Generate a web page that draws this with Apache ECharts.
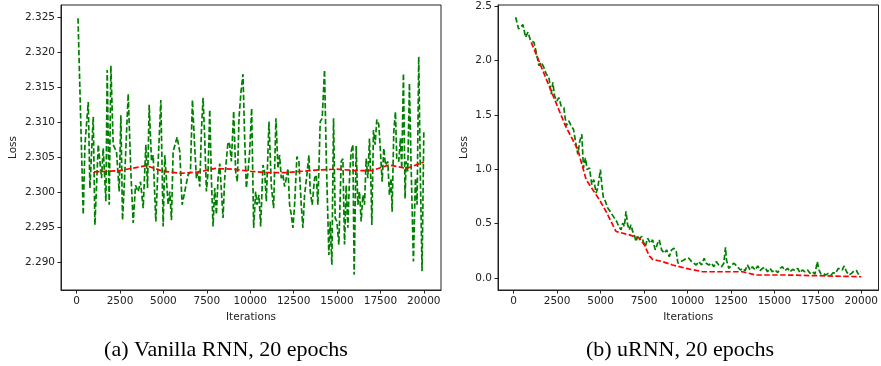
<!DOCTYPE html>
<html>
<head>
<meta charset="utf-8">
<script src="https://cdn.jsdelivr.net/npm/echarts@6/dist/echarts.min.js"></script>
<style>
  html, body { margin: 0; padding: 0; background: #fff; }
  #chart { width: 881px; height: 366px; }
</style>
</head>
<body>
<div id="chart"></div>
<script>
// ── data ──
// (a) Vanilla RNN: raw loss (green) and running average (red)
const vanillaIter = [80, 381, 479, 670, 766, 957, 1053, 1245, 1437, 1532, 1686, 1762, 1877, 1973, 2107, 2299, 2453, 2549, 2645, 2779,
  2971, 3124, 3258, 3393, 3546, 3681, 3834, 3988, 4084, 4180, 4314, 4410, 4563, 4698, 4851, 4985, 5080, 5271, 5367, 5463,
  5559, 5789, 5942, 6076, 6230, 6421, 6556, 6671, 6805, 6901, 6997, 7092, 7188, 7284, 7380, 7476, 7572, 7668, 7763, 7859,
  7955, 8051, 8147, 8243, 8338, 8434, 8530, 8722, 8818, 8914, 9048, 9163, 9259, 9354, 9469, 9584, 9680, 9776, 9872, 9968,
  10083, 10198, 10313, 10390, 10505, 10601, 10735, 10831, 10927, 11080, 11214, 11348, 11482, 11597, 11693, 11789, 11885, 11981, 12077, 12173,
  12268, 12364, 12460, 12556, 12690, 12805, 12939, 13035, 13131, 13265, 13380, 13457, 13572, 13706, 13802, 13898, 14032, 14147, 14281, 14377,
  14473, 14530, 14607, 14703, 14799, 14895, 14991, 15106, 15240, 15337, 15433, 15528, 15624, 15720, 15816, 15912, 15988, 16103, 16199, 16295,
  16391, 16487, 16583, 16679, 16774, 16870, 16966, 17005, 17100, 17196, 17292, 17407, 17503, 17599, 17695, 17790, 17925, 18020, 18116, 18174,
  18270, 18366, 18442, 18557, 18653, 18730, 18826, 18921, 18979, 19075, 19171, 19267, 19401, 19516, 19612, 19707, 19803, 19899, 20000];
const vanillaLoss = [2.3249, 2.2968, 2.3068, 2.3129, 2.3006, 2.3108, 2.2953, 2.3068, 2.3020, 2.3063, 2.2987, 2.3175, 2.2982, 2.3181, 2.3068, 2.3058, 2.3001, 2.3110, 2.2960, 2.3029,
  2.3141, 2.3029, 2.2956, 2.3010, 2.3001, 2.3015, 2.2977, 2.3068, 2.3006, 2.3125, 2.3044, 2.3053, 2.2958, 2.3044, 2.3132, 2.2951, 2.3053, 2.2982, 2.3001, 2.2960,
  2.3058, 2.3079, 2.3058, 2.2982, 2.3001, 2.3025, 2.3029, 2.3132, 2.3063, 2.3020, 2.3029, 2.3008, 2.3087, 2.3135, 2.3077, 2.3001, 2.3029, 2.3118, 2.3020, 2.2951,
  2.3006, 2.2968, 2.3020, 2.3041, 2.3039, 2.2963, 2.3020, 2.3072, 2.3068, 2.3044, 2.3116, 2.3029, 2.3015, 2.3106, 2.3144, 2.3169, 2.3077, 2.3006, 2.3029, 2.3058,
  2.3120, 2.2949, 2.3001, 2.2982, 2.2996, 2.2951, 2.3039, 2.3029, 2.2987, 2.3101, 2.3010, 2.2977, 2.3106, 2.3034, 2.3053, 2.3020, 2.3025, 2.3008, 2.3020, 2.3034,
  2.2982, 2.2968, 2.2949, 2.2982, 2.3051, 2.3044, 2.2982, 2.2949, 2.2996, 2.3025, 2.3053, 2.3001, 2.2982, 2.3020, 2.3025, 2.2982, 2.3101, 2.3106, 2.3175, 2.3053,
  2.2963, 2.2910, 2.2958, 2.2896, 2.3106, 2.2963, 2.2958, 2.2925, 2.3044, 2.3048, 2.2925, 2.3010, 2.2949, 2.3020, 2.3058, 2.3068, 2.2882, 2.3066, 2.2982, 2.3001,
  2.2958, 2.2996, 2.2982, 2.3048, 2.3020, 2.3077, 2.3001, 2.2953, 2.3089, 2.3068, 2.3104, 2.3097, 2.3058, 2.3015, 2.3063, 2.3039, 2.3044, 2.2996, 2.3020, 2.2972,
  2.3087, 2.3115, 2.3048, 2.3044, 2.3077, 2.3034, 2.3170, 2.2991, 2.3044, 2.3030, 2.3156, 2.3039, 2.2901, 2.3020, 2.2982, 2.3194, 2.3020, 2.2887, 2.3087];
const vanillaAvgIter = [1000, 2500, 4000, 5000, 6000, 7000, 8000, 9000, 10000, 11000, 12000, 13000, 14000, 15000, 16000, 17000, 18000, 19000, 20000];
const vanillaAvgLoss = [2.3029, 2.3031, 2.3038, 2.3030, 2.3027, 2.3029, 2.3034, 2.3033, 2.3030, 2.3028, 2.3028, 2.3030, 2.3032, 2.3033, 2.3031, 2.3031, 2.3039, 2.3034, 2.3043];

// (b) uRNN
const urnnIter = [115, 287, 535, 688, 822, 975, 1166, 1300, 1453, 1587, 1740, 1874, 2027, 2161, 2257, 2352, 2486, 2601, 2735, 2888,
  3022, 3175, 3309, 3443, 3557, 3691, 3806, 3921, 4016, 4131, 4227, 4361, 4495, 4610, 4743, 4839, 4992, 5069, 5164, 5279,
  5413, 5547, 5662, 5796, 5930, 6045, 6177, 6272, 6368, 6464, 6559, 6655, 6751, 6846, 6942, 7038, 7133, 7229, 7363, 7459,
  7574, 7708, 7861, 7995, 8148, 8282, 8378, 8512, 8665, 8799, 8952, 9086, 9220, 9354, 9450, 9603, 9795, 9948, 10082, 10235,
  10369, 10503, 10656, 10809, 10962, 11077, 11230, 11383, 11517, 11651, 11804, 11957, 12091, 12187, 12244, 12378, 12531, 12684, 12856, 13048,
  13182, 13316, 13450, 13603, 13737, 13890, 14043, 14177, 14311, 14464, 14598, 14751, 14885, 15038, 15191, 15325, 15459, 15612, 15765, 15899,
  16052, 16186, 16339, 16473, 16607, 16760, 16913, 17047, 17181, 17334, 17468, 17564, 17679, 17813, 17947, 18100, 18253, 18387, 18521, 18674,
  18770, 18904, 19018, 19152, 19286, 19439, 19592, 19726, 19822, 19975];
const urnnLoss = [2.398, 2.290, 2.330, 2.213, 2.260, 2.183, 2.167, 2.075, 1.952, 1.983, 1.936, 1.875, 1.844, 1.690, 1.798, 1.675, 1.628, 1.659, 1.582, 1.567,
  1.398, 1.444, 1.398, 1.367, 1.259, 1.136, 1.259, 1.321, 1.013, 1.105, 0.997, 1.013, 0.859, 0.905, 0.782, 0.828, 0.997, 0.859, 0.736, 0.705,
  0.643, 0.613, 0.597, 0.551, 0.520, 0.474, 0.443, 0.505, 0.474, 0.612, 0.489, 0.443, 0.489, 0.428, 0.397, 0.336, 0.382, 0.351, 0.385, 0.336,
  0.289, 0.367, 0.320, 0.351, 0.259, 0.320, 0.351, 0.259, 0.228, 0.259, 0.197, 0.259, 0.274, 0.243, 0.136, 0.151, 0.166, 0.182, 0.182, 0.151,
  0.136, 0.120, 0.151, 0.120, 0.182, 0.136, 0.120, 0.136, 0.104, 0.151, 0.120, 0.104, 0.136, 0.283, 0.166, 0.089, 0.120, 0.136, 0.104, 0.074,
  0.089, 0.068, 0.120, 0.074, 0.104, 0.074, 0.111, 0.068, 0.089, 0.098, 0.058, 0.089, 0.058, 0.074, 0.049, 0.089, 0.104, 0.068, 0.089, 0.058,
  0.080, 0.068, 0.089, 0.049, 0.074, 0.058, 0.074, 0.043, 0.058, 0.037, 0.151, 0.074, 0.037, 0.043, 0.028, 0.043, 0.028, 0.049, 0.043, 0.089,
  0.104, 0.074, 0.111, 0.058, 0.028, 0.043, 0.068, 0.068, 0.037, 0.058];
const urnnAvgIter = [1013, 2352, 2983, 3690, 4168, 4933, 5316, 5890, 6655, 7229, 7517, 7803, 7995, 8569, 9143, 9910, 10866, 11823, 13163, 13928, 15650, 17564, 20000];
const urnnAvgLoss = [2.167, 1.644, 1.398, 1.182, 0.905, 0.720, 0.612, 0.428, 0.397, 0.367, 0.305, 0.203, 0.172, 0.151, 0.120, 0.089, 0.058, 0.058, 0.058, 0.028, 0.028, 0.021, 0.012];

const iterTicks = [0, 2500, 5000, 7500, 10000, 12500, 15000, 17500, 20000];
const vanillaTicks = [2.290, 2.295, 2.300, 2.305, 2.310, 2.315, 2.320, 2.325];
const urnnTicks = [0.0, 0.5, 1.0, 1.5, 2.0, 2.5];
const captions = ["(a) Vanilla RNN, 20 epochs", "(b) uRNN, 20 epochs"];

// ── helpers ──
function pairs(xs, ys) { return xs.map(function(x, i) { return [x, ys[i]]; }); }

var FONT = "DejaVu Sans";
function xAxisCfg(gi) {
  return {
    type: "value", gridIndex: gi, min: -900, max: 20990,
    name: "Iterations", nameLocation: "middle", nameGap: 21,
    nameTextStyle: { fontFamily: FONT, fontSize: 10.5, color: "#222" },
    axisLine: { show: true, onZero: false, lineStyle: { color: "#222", width: 1 } },
    axisTick: { show: true, length: 3.5, customValues: iterTicks, lineStyle: { color: "#222" } },
    axisLabel: { customValues: iterTicks, fontFamily: FONT, fontSize: 10.5, color: "#222", margin: 6,
      formatter: function(v) { return String(v); } },
    splitLine: { show: false },
  };
}
function yAxisCfg(gi, min, max, ticks, digits, gap) {
  return {
    type: "value", gridIndex: gi, min: min, max: max,
    name: "Loss", nameLocation: "middle", nameRotate: 90, nameGap: gap,
    nameTextStyle: { fontFamily: FONT, fontSize: 10.5, color: "#222" },
    axisLine: { show: true, onZero: false, lineStyle: { color: "#222", width: 1 } },
    axisTick: { show: true, length: 3.5, customValues: ticks, lineStyle: { color: "#222" } },
    axisLabel: { customValues: ticks, fontFamily: FONT, fontSize: 10.5, color: "#222", margin: 6,
      formatter: function(v) { return v.toFixed(digits); } },
    splitLine: { show: false },
  };
}
function lineSeries(gi, data, color) {
  return {
    type: "line", xAxisIndex: gi, yAxisIndex: gi, data: data,
    showSymbol: false, symbol: "none", animation: false,
    lineStyle: { color: color, width: 1.7, type: [5.5, 2.4] },
  };
}

var chart = echarts.init(document.getElementById("chart"), null, { renderer: "canvas" });
chart.setOption({
  animation: false,
  grid: [
    { left: 61, top: 5, width: 380, height: 285, show: true, borderColor: "#222", borderWidth: 1, backgroundColor: "transparent" },
    { left: 498, top: 5, width: 381, height: 285, show: true, borderColor: "#222", borderWidth: 1, backgroundColor: "transparent" },
  ],
  xAxis: [xAxisCfg(0), xAxisCfg(1)],
  yAxis: [
    yAxisCfg(0, 2.2860, 2.3268, vanillaTicks, 3, 42),
    yAxisCfg(1, -0.11, 2.51, urnnTicks, 1, 28),
  ],
  series: [
    lineSeries(0, pairs(vanillaIter, vanillaLoss), "#008000"),
    lineSeries(0, pairs(vanillaAvgIter, vanillaAvgLoss), "#ff0000"),
    lineSeries(1, pairs(urnnIter, urnnLoss), "#008000"),
    lineSeries(1, pairs(urnnAvgIter, urnnAvgLoss), "#ff0000"),
  ],
  graphic: [
    { type: "text", x: 226, y: 350, style: { text: captions[0], font: "22px 'Liberation Serif'", fill: "#000", textAlign: "center", textVerticalAlign: "middle" } },
    { type: "text", x: 680, y: 350, style: { text: captions[1], font: "22px 'Liberation Serif'", fill: "#000", textAlign: "center", textVerticalAlign: "middle" } },
  ],
});
</script>
</body>
</html>
